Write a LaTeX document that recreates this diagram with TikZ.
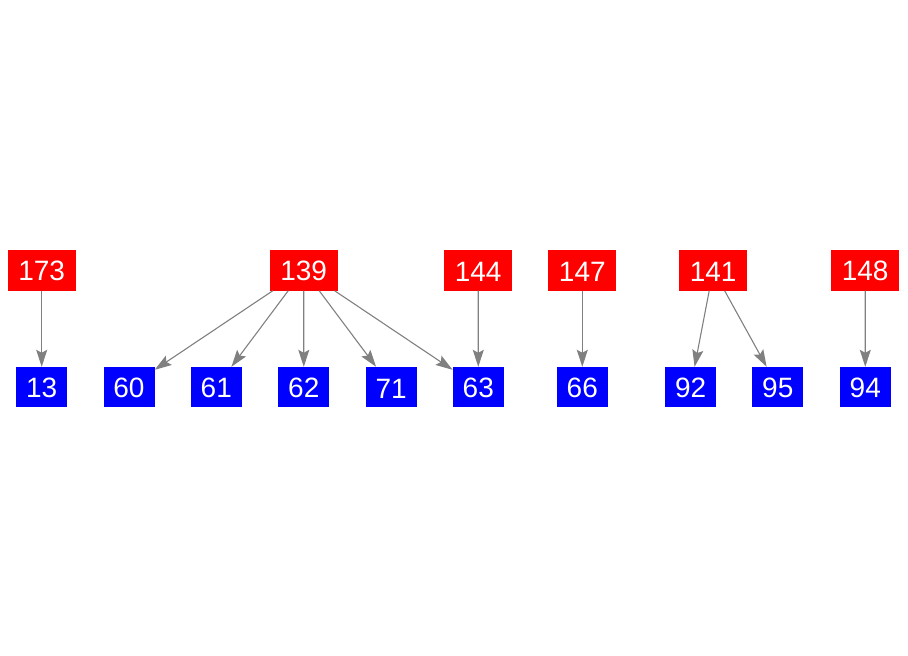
\documentclass[tikz,border=0pt]{standalone}
\usepackage{fontspec}
\setmainfont{Liberation Sans}
\usetikzlibrary{arrows.meta}
\begin{document}
\begin{tikzpicture}[x=1pt,y=-1pt,
  parent/.style={fill=red,text=white,minimum width=68pt,minimum height=41pt,inner sep=0pt,text height=22pt,font=\fontsize{28}{30}\selectfont},
  child/.style={fill=blue,text=white,minimum width=51pt,minimum height=40pt,inner sep=0pt,text height=22pt,font=\fontsize{28}{30}\selectfont},
  link/.style={draw=gray,line width=1.1pt,-{Stealth[length=17pt,width=11pt,inset=3pt]}}]
\useasboundingbox (0,0) rectangle (908,656);
\node[parent] (p173) at (41.7,270) {173};
\node[parent] (p139) at (303.7,270) {139};
\node[parent] (p144) at (478.2,270) {144};
\node[parent] (p147) at (582.3,270) {147};
\node[parent] (p141) at (713.2,270) {141};
\node[parent] (p148) at (865.2,270) {148};
\node[child] (c13) at (41.7,387) {13};
\node[child] (c60) at (129,387) {60};
\node[child] (c61) at (216.3,387) {61};
\node[child] (c62) at (303.8,387) {62};
\node[child] (c71) at (391.2,387) {71};
\node[child] (c63) at (478.3,387) {63};
\node[child] (c66) at (582.3,387) {66};
\node[child] (c92) at (690.7,387) {92};
\node[child] (c95) at (777.8,387) {95};
\node[child] (c94) at (865.3,387) {94};
\draw[link] (p173) -- (c13);
\draw[link] (p139) -- (c60);
\draw[link] (p139) -- (c61);
\draw[link] (p139) -- (c62);
\draw[link] (p139) -- (c71);
\draw[link] (p139) -- (c63);
\draw[link] (p144) -- (c63);
\draw[link] (p147) -- (c66);
\draw[link] (p141) -- (c92);
\draw[link] (p141) -- (c95);
\draw[link] (p148) -- (c94);
\end{tikzpicture}
\end{document}
